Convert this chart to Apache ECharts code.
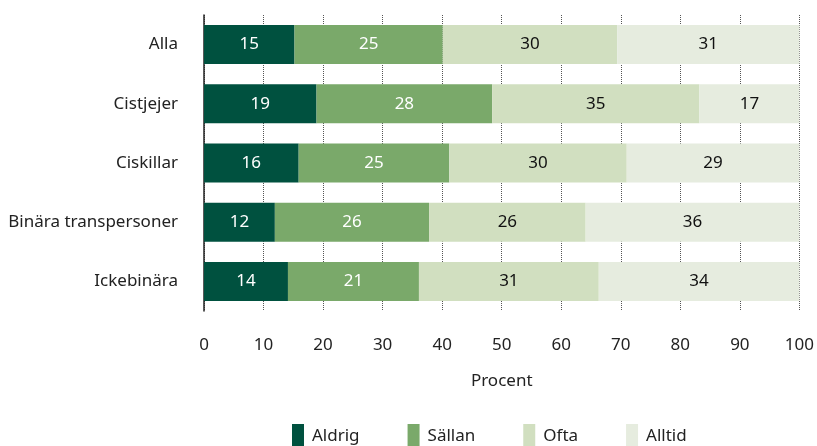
<!DOCTYPE html>
<html>
<head>
<meta charset="utf-8">
<script src="https://cdn.jsdelivr.net/npm/echarts@6/dist/echarts.min.js"></script>
<style>
  html, body { margin: 0; padding: 0; background: #fff; }
  #chart { width: 817px; height: 446px; }
</style>
</head>
<body>
<div id="chart"></div>
<script>
// kategorier, uppifrån och ned
const categories = ['Alla', 'Cistjejer', 'Ciskillar', 'Binära transpersoner', 'Ickebinära']

// stapelbredder (procent)
const aldrig = [15.2, 18.9, 15.9, 11.9, 14.1]
const sallan = [24.9, 29.5, 25.3, 25.9, 22.0]
const ofta = [29.3, 34.8, 29.8, 26.3, 30.2]
const alltid = [30.6, 16.8, 29.0, 35.9, 33.7]

// etiketter som visas i staplarna
const aldrigLabels = [15, 19, 16, 12, 14]
const sallanLabels = [25, 28, 25, 26, 21]
const oftaLabels = [30, 35, 30, 26, 31]
const alltidLabels = [31, 17, 29, 36, 34]

const font = '"Noto Sans", "Open Sans", sans-serif'

function makeSeries(name, data, labels, color, textColor) {
  return {
    name: name,
    type: 'bar',
    stack: 'total',
    data: data,
    barWidth: 39,
    itemStyle: { color: color },
    label: {
      show: true,
      position: 'inside',
      color: textColor,
      fontSize: 17,
      fontFamily: font,
      formatter: (p) => String(labels[p.dataIndex])
    }
  }
}

const chart = echarts.init(document.getElementById('chart'))
chart.setOption({
  animation: false,
  textStyle: { fontFamily: font },
  grid: { left: 204, right: 14, top: 15, bottom: 135 },
  legend: {
    left: 292,
    top: 424,
    padding: 0,
    itemWidth: 12,
    itemHeight: 24,
    itemGap: 48,
    icon: 'rect',
    textStyle: { fontSize: 17, color: '#222', fontFamily: font, padding: [0, 0, 0, 3] },
    data: ['Aldrig', 'Sällan', 'Ofta', 'Alltid']
  },
  xAxis: {
    type: 'value',
    min: 0,
    max: 100,
    interval: 10,
    name: 'Procent',
    nameLocation: 'middle',
    nameGap: 62,
    nameTextStyle: { fontSize: 17, color: '#222', fontFamily: font },
    axisLine: { show: false },
    axisTick: { show: false },
    axisLabel: { fontSize: 17, color: '#222', margin: 26, fontFamily: font },
    splitLine: { show: true, lineStyle: { type: 'dotted', color: '#555', width: 1 } }
  },
  yAxis: {
    type: 'category',
    data: categories,
    inverse: true,
    axisLine: { show: true, lineStyle: { color: '#222', width: 1.5 } },
    axisTick: { show: false },
    axisLabel: { fontSize: 17, color: '#222', margin: 26, fontFamily: font }
  },
  series: [
    makeSeries('Aldrig', aldrig, aldrigLabels, '#00513f', '#fff'),
    makeSeries('Sällan', sallan, sallanLabels, '#7aa96a', '#fff'),
    makeSeries('Ofta', ofta, oftaLabels, '#d1dfc0', '#111'),
    makeSeries('Alltid', alltid, alltidLabels, '#e6ecdf', '#111')
  ]
})
</script>
</body>
</html>
